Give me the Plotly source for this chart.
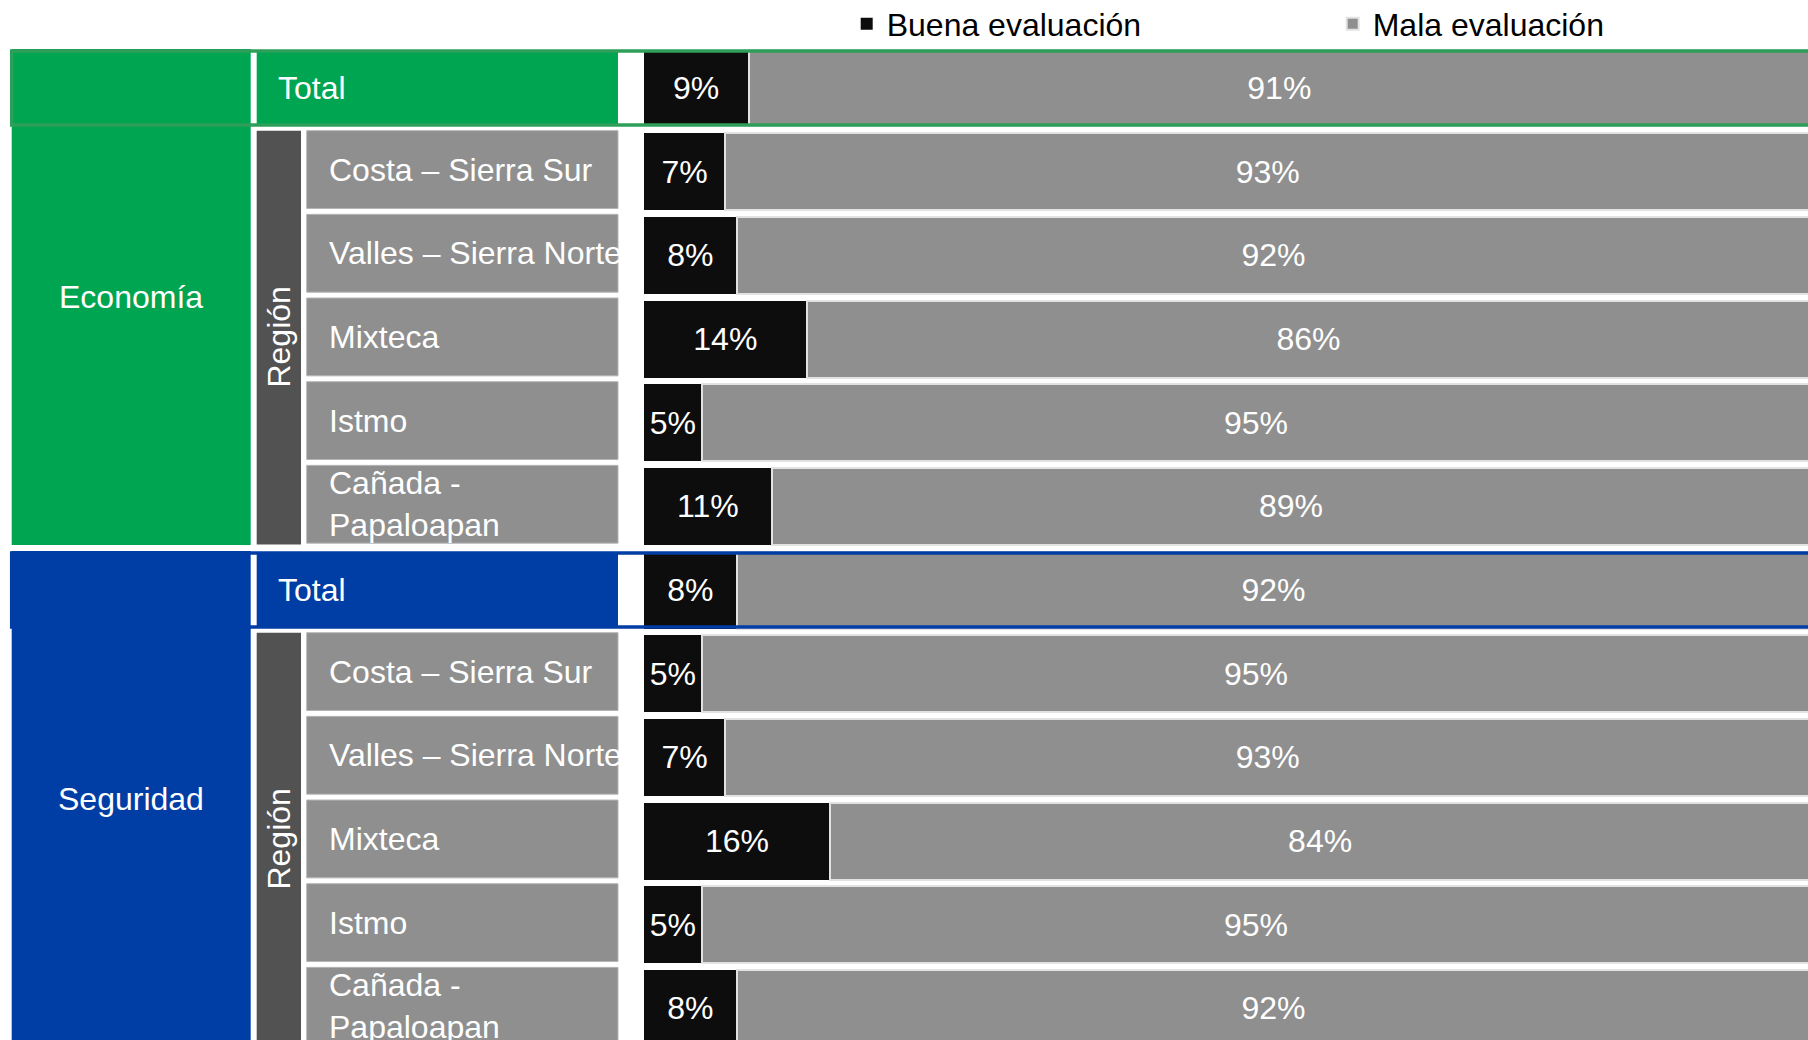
import plotly.graph_objects as go

# datos
temas = ["Economía", "Seguridad"]
filas = ["Total", "Costa – Sierra Sur", "Valles – Sierra Norte", "Mixteca", "Istmo", "Cañada -<br>Papaloapan"]
grupo = "Región"
series = ["Buena evaluación", "Mala evaluación"]
buena_economia = [9, 7, 8, 14, 5, 11]
mala_economia = [91, 93, 92, 86, 95, 89]
buena_seguridad = [8, 5, 7, 16, 5, 8]
mala_seguridad = [92, 95, 93, 84, 95, 92]

W, H = 1808, 1040
FONT = "Liberation Sans"
COLORES_TEMA = ["#00A551", "#003DA5"]
BORDES_TEMA = ["#2E9F5A", "#003DA5"]
NEGRO = "#0D0D0D"
GRIS = "#8F8F8F"
GRIS_OSC = "#525252"

buena = buena_economia + buena_seguridad
mala = mala_economia + mala_seguridad
pos = list(range(len(buena)))


def px(p):
    # pixel horizontal -> coordenada paper (margenes cero)
    return p / W


fig = go.Figure()
fig.add_trace(go.Bar(
    y=pos, x=buena, orientation="h", name=series[0], width=0.92,
    marker=dict(color=NEGRO, line=dict(width=0)),
    text=[f"{v}%" for v in buena], textposition="inside", insidetextanchor="middle",
    textangle=0, textfont=dict(color="white", size=32, family=FONT),
))
fig.add_trace(go.Bar(
    y=pos, x=mala, orientation="h", name=series[1], width=0.92,
    marker=dict(color=GRIS, line=dict(width=2, color="#E2E2E2")),
    text=[f"{v}%" for v in mala], textposition="inside", insidetextanchor="middle",
    textangle=0, textfont=dict(color="white", size=32, family=FONT),
))

shapes = []
annotations = []
n = len(filas)
for b, tema in enumerate(temas):
    r0 = b * n
    top, bottom = r0 - 0.466, r0 + n - 1 + 0.462
    color = COLORES_TEMA[b]
    # bloque del tema
    shapes.append(dict(type="rect", xref="paper", yref="y", x0=px(11.7), x1=px(250.7),
                       y0=top, y1=bottom, fillcolor=color, line_width=0, layer="below"))
    annotations.append(dict(xref="paper", yref="y", x=px(131), y=(top + bottom) / 2, text=tema,
                            xanchor="center", showarrow=False,
                            font=dict(color="white", size=32, family=FONT)))
    # fila Total
    shapes.append(dict(type="rect", xref="paper", yref="y", x0=px(256.7), x1=px(618),
                       y0=r0 - 0.442, y1=r0 + 0.442, fillcolor=color, line_width=0, layer="below"))
    shapes.append(dict(type="rect", xref="paper", yref="y", x0=px(11.7), x1=px(1840),
                       y0=r0 - 0.442, y1=r0 + 0.442, line=dict(color=BORDES_TEMA[b], width=3.5),
                       layer="above"))
    annotations.append(dict(xref="paper", yref="y", x=px(276), y=r0, text=filas[0], xanchor="left",
                            showarrow=False, font=dict(color="white", size=32, family=FONT)))
    # barra "Región"
    shapes.append(dict(type="rect", xref="paper", yref="y", x0=px(256.7), x1=px(301),
                       y0=r0 + 0.51, y1=r0 + n - 1 + 0.455, fillcolor=GRIS_OSC, line_width=0,
                       layer="below"))
    annotations.append(dict(xref="paper", yref="y", x=px(279), y=r0 + (0.51 + n - 1 + 0.455) / 2,
                            text=grupo, textangle=-90, xanchor="center", yanchor="middle",
                            showarrow=False, font=dict(color="white", size=32, family=FONT)))
    # etiquetas de region
    for k in range(1, n):
        r = r0 + k
        shapes.append(dict(type="rect", xref="paper", yref="y", x0=px(306.7), x1=px(618),
                           y0=r - 0.49, y1=r + 0.44, fillcolor=GRIS,
                           line=dict(color="#B5B5B5", width=1), layer="below"))
        annotations.append(dict(xref="paper", yref="y", x=px(327), y=r - 0.025, text=filas[k],
                                xanchor="left", align="left", showarrow=False,
                                font=dict(color="white", size=32, family=FONT)))

fig.update_layout(
    width=W, height=H,
    margin=dict(l=0, r=0, t=0, b=0, autoexpand=False),
    barmode="stack",
    paper_bgcolor="white", plot_bgcolor="white",
    font=dict(family=FONT, size=32, color="black"),
    xaxis=dict(range=[-55.19, 99.83], visible=False, fixedrange=True),
    yaxis=dict(range=[11.378, -1.0518], visible=False, fixedrange=True),
    uniformtext=dict(minsize=32, mode="show"),
    showlegend=True,
    legend=dict(orientation="h", x=px(846.7), xanchor="left", y=1 - 24 / H, yanchor="middle",
                entrywidth=441, entrywidthmode="pixels", bgcolor="rgba(0,0,0,0)",
                font=dict(size=32, color="black", family=FONT), traceorder="normal"),
    shapes=shapes,
    annotations=annotations,
)

fig.write_html("out.html", config={"displayModeBar": False},
               post_script="document.body.style.margin='0';")
